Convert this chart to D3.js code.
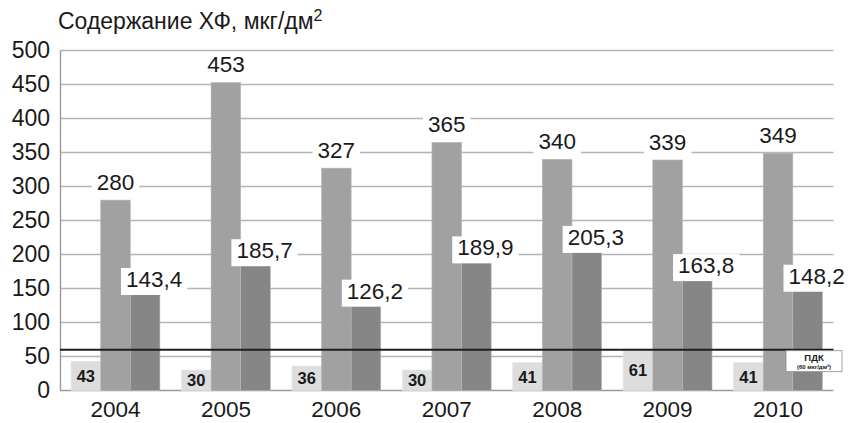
<!DOCTYPE html>
<html>
<head>
<meta charset="utf-8">
<script src="https://cdn.jsdelivr.net/npm/d3@7"></script>
<style>
  html, body { margin: 0; padding: 0; background: #fff; }
  svg { display: block; }
  text { font-family: "Liberation Sans", Arial, Helvetica, sans-serif; fill: #1a1a1a; }
</style>
</head>
<body>
<svg id="chart" width="848" height="423"></svg>
<script>
// Годы наблюдений
const years = ["2004", "2005", "2006", "2007", "2008", "2009", "2010"];
// Три ряда содержания ХФ, мкг/дм²
const seriesLight  = [43, 30, 36, 30, 41, 61, 41];
const seriesMedium = [280, 453, 327, 365, 340, 339, 349];
const seriesDark   = [143.4, 185.7, 126.2, 189.9, 205.3, 163.8, 148.2];
const yTicks = [0, 50, 100, 150, 200, 250, 300, 350, 400, 450, 500];
const pdk = 60; // ПДК, мкг/дм³

const seriesKeys = ["light", "medium", "dark"];
const colors = { light: "#dddddd", medium: "#a1a1a1", dark: "#868686" };

const rows = years.map((y, i) => ({
  year: y,
  light: seriesLight[i],
  medium: seriesMedium[i],
  dark: seriesDark[i]
}));

const svg = d3.select("#chart");
const m = { left: 60, right: 15, top: 50.5, bottom: 32.5 };
const W = 848, H = 423;
const x0 = m.left, x1 = W - m.right + 0.5;
const yTop = m.top, yBot = H - m.bottom;

const x = d3.scaleBand().domain(years).range([x0, x1])
  .paddingInner(0.195).paddingOuter(0.1);
const xs = d3.scaleBand().domain(seriesKeys).range([0, x.bandwidth()]);
const y = d3.scaleLinear().domain([0, 500]).range([yBot, yTop]);

const fmt = v => String(v).replace(".", ",");

// Сетка
svg.append("g").selectAll("line").data(yTicks.filter(t => t > 0)).join("line")
  .attr("x1", x0).attr("x2", x1)
  .attr("y1", d => y(d)).attr("y2", d => y(d))
  .attr("stroke", "#b4b4b4").attr("stroke-width", 1.4);

// Ось Y
const yAxis = svg.append("g").attr("transform", `translate(${x0},0)`)
  .call(d3.axisLeft(y).tickValues(yTicks).tickSize(0).tickPadding(10));
yAxis.select(".domain").attr("stroke", "#9a9a9a").attr("stroke-width", 1.4);
yAxis.selectAll("text").attr("font-size", 23).attr("fill", "#1a1a1a")
  .attr("font-family", "'Liberation Sans', Arial, sans-serif");

// Ось X
const xAxis = svg.append("g").attr("transform", `translate(0,${yBot})`)
  .call(d3.axisBottom(x).tickSize(0).tickPadding(11));
xAxis.select(".domain").attr("stroke", "#9a9a9a").attr("stroke-width", 1.4)
  .attr("d", `M${x0},0H${x1}`);
xAxis.selectAll("text").attr("font-size", 22.5).attr("fill", "#1a1a1a")
  .attr("font-family", "'Liberation Sans', Arial, sans-serif");

// Столбцы
const groups = svg.append("g").selectAll("g").data(rows).join("g")
  .attr("transform", d => `translate(${x(d.year)},0)`);

groups.selectAll("rect").data(d => seriesKeys.map(k => ({ key: k, value: d[k] })))
  .join("rect")
  .attr("x", d => xs(d.key))
  .attr("width", xs.bandwidth())
  .attr("y", d => y(d.value))
  .attr("height", d => yBot - y(d.value))
  .attr("fill", d => colors[d.key])
  .attr("stroke", d => d.key === "light" ? "#e6e6e6" : "#b8b8b8")
  .attr("stroke-width", 0.6);

// Линия ПДК
svg.append("line")
  .attr("x1", x0).attr("x2", x1)
  .attr("y1", y(pdk)).attr("y2", y(pdk))
  .attr("stroke", "#1e1e1e").attr("stroke-width", 2);

// Подписи значений с белой подложкой
function boxedLabel(g, tx, ty, str, size, anchor) {
  const t = g.append("text").attr("x", tx).attr("y", ty)
    .attr("text-anchor", anchor).attr("font-size", size).text(str);
  const b = t.node().getBBox();
  g.insert("rect", "text")
    .attr("x", b.x - 5).attr("y", b.y + 1)
    .attr("width", b.width + 10).attr("height", b.height + 2)
    .attr("fill", "#fff");
}

const labels = svg.append("g");
rows.forEach(d => {
  const gx = x(d.year);
  // средний ряд — над столбцом
  const lm = labels.append("g");
  boxedLabel(lm, gx + xs("medium") + xs.bandwidth() / 2, y(d.medium) - 10,
    fmt(d.medium), 22.5, "middle");
  // тёмный ряд — над столбцом со сдвигом вправо
  const ld = labels.append("g");
  boxedLabel(ld, gx + xs("dark") + xs.bandwidth() / 2 + 9, y(d.dark) - 6,
    fmt(d.dark), 22.5, "middle");
  // светлый ряд — внутри столбца
  labels.append("text")
    .attr("x", gx + xs("light") + xs.bandwidth() / 2)
    .attr("y", (y(d.light) + yBot) / 2)
    .attr("dy", "0.36em")
    .attr("text-anchor", "middle")
    .attr("font-size", 16.5).attr("font-weight", "bold")
    .text(fmt(d.light));
});

// Плашка ПДК
const pg = svg.append("g");
const bx = 786, by = y(pdk) + 1, bw = 56, bh = 21;
pg.append("rect").attr("x", bx).attr("y", by).attr("width", bw).attr("height", bh)
  .attr("fill", "#fff").attr("stroke", "#8a8a8a").attr("stroke-width", 0.8);
pg.append("text").attr("x", bx + bw / 2).attr("y", by + 10.5)
  .attr("text-anchor", "middle").attr("font-size", 9.5).attr("font-weight", "bold")
  .text("ПДК");
pg.append("text").attr("x", bx + bw / 2).attr("y", by + 18)
  .attr("text-anchor", "middle").attr("font-size", 6).attr("font-weight", "bold")
  .text(`(${pdk} мкг/дм³)`);

// Заголовок оси
const title = svg.append("text").attr("x", 58).attr("y", 29).attr("font-size", 23);
title.append("tspan").text("Содержание ХФ, мкг/дм");
title.append("tspan").attr("font-size", 16).attr("dy", -8).text("2");
</script>
</body>
</html>
